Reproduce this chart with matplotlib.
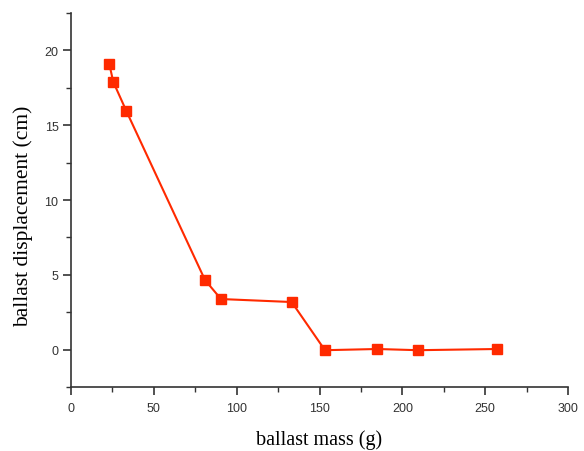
import matplotlib
matplotlib.use('Agg')
import matplotlib.pyplot as plt
from matplotlib.ticker import MultipleLocator

# ballast mass (g) vs displacement (cm)
mass = [23.1, 25.5, 33.4, 80.9, 90.5, 133.2, 153.3, 184.9, 209.4, 257.3]
displacement = [19.1, 17.9, 15.95, 4.65, 3.38, 3.18, -0.04, 0.04, -0.04, 0.04]

RED = '#ff2a00'

fig = plt.figure(figsize=(5.84, 4.52), dpi=100)
ax = fig.add_axes([71 / 584, 1 - 388 / 452, 497 / 584, 374 / 452])

ax.plot(mass, displacement, color=RED, lw=1.5, marker='s', ms=6.5,
        mec=RED, mfc=RED)

ax.set_xlim(0, 300)
ax.set_ylim(-2.5, 22.5)
ax.xaxis.set_major_locator(MultipleLocator(50))
ax.xaxis.set_minor_locator(MultipleLocator(25))
ax.yaxis.set_major_locator(MultipleLocator(5))
ax.yaxis.set_minor_locator(MultipleLocator(2.5))

for side in ('top', 'right'):
    ax.spines[side].set_visible(False)
for side in ('left', 'bottom'):
    ax.spines[side].set_color('#333333')
    ax.spines[side].set_linewidth(1.2)

ax.tick_params(which='major', direction='out', length=6, width=1.2,
               color='#333333', labelsize=9, labelcolor='#333333')
ax.tick_params(which='minor', direction='out', length=3.5, width=1.0,
               color='#333333')
ax.tick_params(axis='x', which='major', pad=5)
ax.tick_params(axis='y', which='major', pad=3)
for lbl in ax.get_xticklabels() + ax.get_yticklabels():
    lbl.set_family('Liberation Sans')

ax.set_xlabel('ballast mass (g)', family='Liberation Serif', fontsize=14.5,
              va='center')
ax.set_ylabel('ballast displacement (cm)', family='Liberation Serif',
              fontsize=15.5, va='center')
ax.xaxis.set_label_coords(0.5, (388 - 440) / 374)
ax.yaxis.set_label_coords((23 - 71) / 497, (388 - 216) / 374)

fig.savefig('out.png', dpi=100)
